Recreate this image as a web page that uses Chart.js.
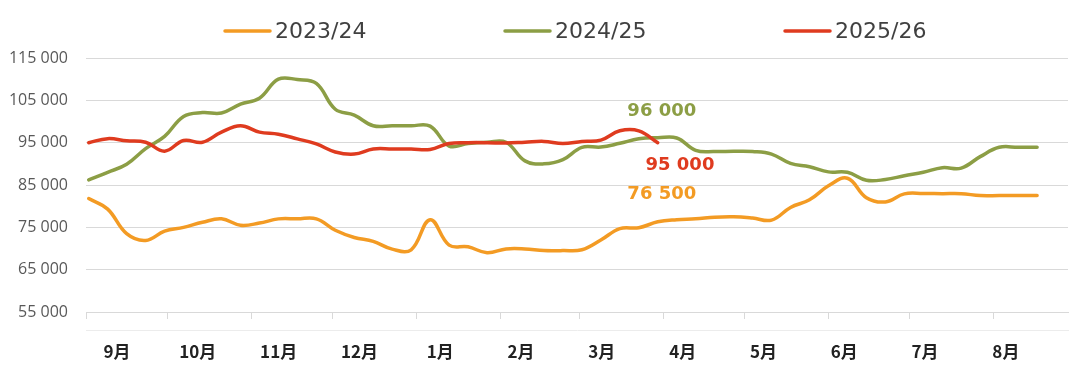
<!DOCTYPE html>
<html>
<head>
<meta charset="utf-8">
<script src="https://cdn.jsdelivr.net/npm/chart.js@4.4.1/dist/chart.umd.min.js"></script>
<style>
  html, body { margin: 0; padding: 0; background: #ffffff; }
  canvas { display: block; }
</style>
</head>
<body>
<canvas id="c" width="1080" height="369"></canvas>
<script>
// ---- Data ----
const seriesNames = ['2023/24', '2024/25', '2025/26'];
const monthLabels = ['9月','10月','11月','12月','1月','2月','3月','4月','5月','6月','7月','8月'];
// day of season (0 = 1 Sep) on which each month starts
const monthStartDays = [0, 30, 61, 91, 122, 153, 182, 213, 243, 274, 304, 335];
// day of season of each weekly observation
const weekDays = [1,8,15,22,29,36,43,50,57,64,71,78,85,92,99,106,113,120,127,134,141,148,155,162,169,176,183,190,197,204,211,218,225,232,239,246,253,260,267,274,281,288,295,302,309,316,323,330,337,344,351];
const yTicks = [55000, 65000, 75000, 85000, 95000, 105000, 115000];

const values2324 = [81800,79300,73500,71900,74100,75000,76200,77000,75500,76000,77000,77000,77000,74300,72600,71700,69850,69700,76800,70800,70400,69000,69900,69900,69500,69500,69700,72000,74700,74900,76300,76800,77000,77400,77500,77200,76700,79700,81500,84800,86600,82000,81000,82900,83000,82950,82950,82500,82500,82500,82500];
const values2425 = [86200,88000,89900,93600,96500,101200,102100,102000,104100,105500,110000,109900,109000,102900,101500,99000,99000,99000,98900,94200,94800,95100,95100,90700,90000,91000,93900,93950,94850,95900,96150,96100,93200,92900,92950,92900,92300,90100,89300,88100,88000,86100,86300,87200,88000,89100,89000,91700,93900,93900,93900];
const values2526 = [95000,95950,95450,95100,93000,95500,95100,97500,99000,97500,97000,95900,94700,92800,92300,93500,93500,93500,93400,94800,95000,95000,94900,95100,95300,94800,95300,95600,97800,97800,95000];

const colors = ['#F39B24', '#8C9E45', '#DF3B1F'];

// value callouts: text, series index, anchor (day, value)
const callouts = [
  { text: '96 000', series: 1, day: 212.5, value: 102400 },
  { text: '95 000', series: 2, day: 219.2, value: 89700 },
  { text: '76 500', series: 0, day: 212.5, value: 82800 }
];

function toPoints(vals) {
  return vals.map((v, i) => ({ x: weekDays[i], y: v }));
}
function fmt(v) {
  return String(v).replace(/\B(?=(\d{3})+(?!\d))/g, ' ');
}

const legendPlugin = {
  id: 'customLegend',
  afterDraw(chart) {
    const ctx = chart.ctx;
    ctx.save();
    ctx.font = '22px "DejaVu Sans"';
    ctx.textBaseline = 'middle';
    ctx.textAlign = 'left';
    const startX = 225, step = 280, y = 31;
    seriesNames.forEach((name, i) => {
      const x = startX + i * step;
      ctx.strokeStyle = colors[i];
      ctx.lineWidth = 3.5;
      ctx.lineCap = 'round';
      ctx.beginPath();
      ctx.moveTo(x, y);
      ctx.lineTo(x + 45, y);
      ctx.stroke();
      ctx.fillStyle = '#404040';
      ctx.fillText(name, x + 50, y + 1);
    });
    ctx.restore();
  }
};

const calloutPlugin = {
  id: 'callouts',
  afterDatasetsDraw(chart) {
    const ctx = chart.ctx;
    const xs = chart.scales.x, ys = chart.scales.y;
    ctx.save();
    ctx.font = 'bold 18px "DejaVu Sans"';
    ctx.textAlign = 'center';
    ctx.textBaseline = 'middle';
    callouts.forEach(c => {
      ctx.fillStyle = colors[c.series];
      ctx.fillText(c.text, xs.getPixelForValue(c.day), ys.getPixelForValue(c.value));
    });
    ctx.restore();
  }
};

new Chart(document.getElementById('c'), {
  type: 'line',
  data: {
    datasets: [
      { label: seriesNames[0], data: toPoints(values2324), borderColor: colors[0], order: 2 },
      { label: seriesNames[1], data: toPoints(values2425), borderColor: colors[1], order: 1 },
      { label: seriesNames[2], data: toPoints(values2526), borderColor: colors[2], order: 0 }
    ].map(d => Object.assign(d, {
      borderWidth: 3.5, pointRadius: 0, pointHoverRadius: 0, tension: 0.4,
      fill: false, borderCapStyle: 'round', borderJoinStyle: 'round'
    }))
  },
  options: {
    responsive: false,
    animation: false,
    devicePixelRatio: 1,
    layout: { padding: { top: 58, right: 12, bottom: 0, left: 0 } },
    plugins: { legend: { display: false }, tooltip: { enabled: false } },
    scales: {
      x: {
        type: 'linear',
        position: 'bottom',
        min: 0,
        max: 362.4,
        afterBuildTicks: (s) => { s.ticks = monthStartDays.map(v => ({ value: v })); },
        afterFit: (s) => { s.height = 18; },
        ticks: { display: false },
        grid: { drawOnChartArea: false, drawTicks: true, tickLength: 7, color: '#d9d9d9', lineWidth: 1 },
        border: { display: true, color: '#d9d9d9', width: 1 }
      },
      x2: {
        type: 'linear',
        position: 'bottom',
        min: -0.384,
        max: 11.769,
        afterBuildTicks: (s) => { s.ticks = monthLabels.map((m, i) => ({ value: i })); },
        afterFit: (s) => { s.height = 39; },
        ticks: {
          autoSkip: false, maxRotation: 0, padding: 3,
          color: '#222222',
          font: { family: '"Noto Sans CJK SC"', size: 17, weight: '600' },
          callback: (v) => monthLabels[v] || ''
        },
        grid: { display: false },
        border: { display: true, color: '#ececec', width: 1 }
      },
      y: {
        min: 55000,
        max: 115000,
        afterBuildTicks: (s) => { s.ticks = yTicks.map(v => ({ value: v })); },
        afterFit: (s) => { s.width = 86; },
        ticks: {
          padding: 18,
          color: '#595959',
          font: { family: '"Open Sans"', size: 16 },
          callback: (v) => fmt(v)
        },
        grid: { color: '#d9d9d9', lineWidth: 1, drawTicks: false },
        border: { display: false }
      }
    }
  },
  plugins: [legendPlugin, calloutPlugin]
});
</script>
</body>
</html>
